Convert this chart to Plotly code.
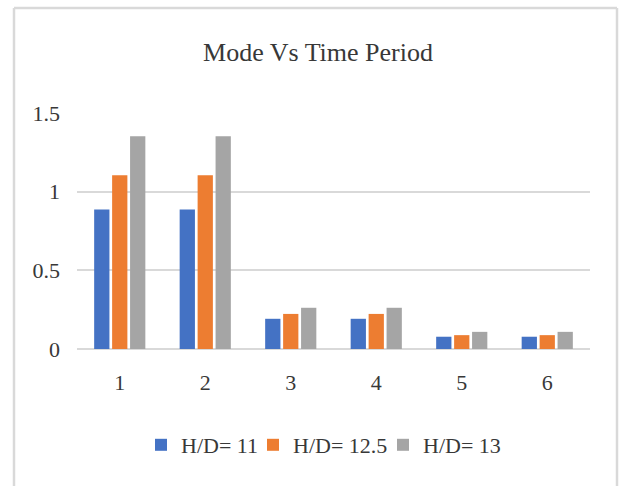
import plotly.graph_objects as go

modes = ["1", "2", "3", "4", "5", "6"]
series_names = ["H/D= 11", "H/D= 12.5", "H/D= 13"]
hd11 = [0.887, 0.887, 0.192, 0.192, 0.078, 0.078]
hd125 = [1.105, 1.105, 0.223, 0.223, 0.088, 0.088]
hd13 = [1.353, 1.353, 0.262, 0.262, 0.109, 0.109]
colors = ["#4472C4", "#ED7D31", "#A5A5A5"]
legend_widths = [67, 85, 80]
y_ticks = [0, 0.5, 1, 1.5]
y_tick_text = ["0", "0.5", "1", "1.5"]

W, H = 621, 486
ML, MR, MT, MB = 77, 31, 113, 137
FONT = "Liberation Serif, Times New Roman, serif"
TXT = "#383838"

fig = go.Figure()
for name, vals, c, lw in zip(series_names, [hd11, hd125, hd13], colors, legend_widths):
    fig.add_trace(go.Bar(x=modes, y=vals, name=name, legendwidth=lw,
                         marker=dict(color=c, line=dict(width=0))))

pw = W - ML - MR
ph = H - MT - MB
# chart-area frame (left, top, right edges)
fx0 = (14 - ML) / pw
fx1 = (617 - ML) / pw
fy1 = (H - MB - 8) / ph
fy0 = -(MB + 5) / ph
frame = dict(color="#D9D9D9", width=2.5)
shapes = [
    dict(type="line", xref="paper", yref="paper", x0=fx0, x1=fx0, y0=fy0, y1=fy1, line=frame),
    dict(type="line", xref="paper", yref="paper", x0=fx0, x1=fx1, y0=fy1, y1=fy1, line=frame),
    dict(type="line", xref="paper", yref="paper", x0=fx1, x1=fx1, y0=fy0, y1=fy1, line=frame),
]

fig.update_layout(
    width=W, height=H,
    margin=dict(l=ML, r=MR, t=MT, b=MB),
    paper_bgcolor="white", plot_bgcolor="white",
    font=dict(family=FONT, size=22, color=TXT),
    title=dict(text="Mode Vs Time Period", x=(318 - ML) / pw, xref="paper", xanchor="center",
               y=(H - 52) / H, yanchor="middle", font=dict(family=FONT, size=26, color=TXT)),
    barmode="group", bargap=0.37, bargroupgap=0.15,
    showlegend=True,
    legend=dict(orientation="h", x=(141 - ML) / pw, xanchor="left", y=-(445 - (H - MB)) / ph, yanchor="middle",
                font=dict(family=FONT, size=22, color=TXT), itemwidth=30, tracegroupgap=0),
    xaxis=dict(showgrid=False, showline=False, zeroline=False, ticks="", ticklabelstandoff=18,
               tickfont=dict(family=FONT, size=22, color=TXT)),
    yaxis=dict(range=[0, 1.5], tickvals=y_ticks, ticktext=y_tick_text, showgrid=True,
               gridcolor="#D9D9D9", gridwidth=2, zeroline=True, zerolinecolor="#D9D9D9", zerolinewidth=2,
               showline=False, ticks="", ticklabelstandoff=16,
               tickfont=dict(family=FONT, size=22, color=TXT)),
    shapes=shapes,
)

fig.write_html("out.html")
